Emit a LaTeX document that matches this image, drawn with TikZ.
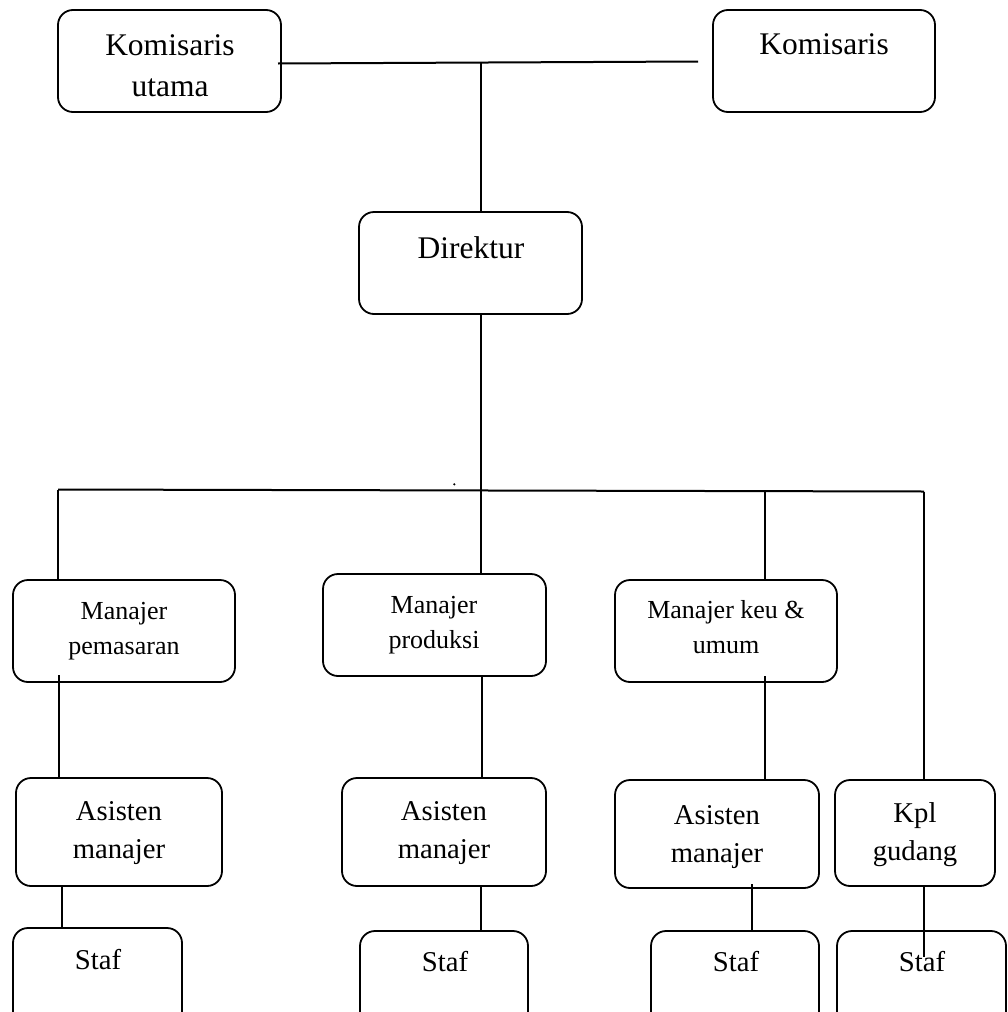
\documentclass[tikz,border=0pt]{standalone}
\usepackage{fontspec}
\setmainfont{Liberation Serif}
\begin{document}
\begin{tikzpicture}[x=1pt,y=-1pt,
  box/.style={draw, rounded corners=15pt, line width=1.8pt, inner sep=0pt, outer sep=0pt, anchor=north west},
  big/.style={anchor=base, inner sep=0pt, align=center, font=\fontsize{31.5}{41}\selectfont},
  mid/.style={anchor=base, inner sep=0pt, align=center, font=\fontsize{26}{34.5}\selectfont},
  std/.style={anchor=base, inner sep=0pt, align=center, font=\fontsize{28.7}{38}\selectfont},
  conn/.style={line width=1.5pt},
  mainline/.style={line width=2pt}]
\useasboundingbox (0,0) rectangle (1008,1012);
% boxes
\node[box, minimum width=223pt, minimum height=102pt] (ku)  at (58,10) {};
\node[box, minimum width=222pt, minimum height=102pt] (ko)  at (713,10) {};
\node[box, minimum width=223pt, minimum height=102pt] (dir) at (359,212) {};
\node[box, minimum width=222pt, minimum height=102pt] (mp)  at (13,580) {};
\node[box, minimum width=223pt, minimum height=102pt] (mpr) at (323,574) {};
\node[box, minimum width=222pt, minimum height=102pt] (mk)  at (615,580) {};
\node[box, minimum width=206pt, minimum height=108pt] (a1)  at (16,778) {};
\node[box, minimum width=204pt, minimum height=108pt] (a2)  at (342,778) {};
\node[box, minimum width=204pt, minimum height=108pt] (a3)  at (615,780) {};
\node[box, minimum width=160pt, minimum height=106pt] (kpl) at (835,780) {};
\node[box, minimum width=169pt, minimum height=110pt] (s1)  at (13,928) {};
\node[box, minimum width=168pt, minimum height=110pt] (s2)  at (360,931) {};
\node[box, minimum width=168pt, minimum height=110pt] (s3)  at (651,931) {};
\node[box, minimum width=169pt, minimum height=110pt] (s4)  at (837,931) {};
% texts (anchor = baseline of the last line)
\node[big] (kut) at (170,96) {Komisaris\\utama};
\node[big] (kot) at (824,54) {Komisaris};
\node[big] (dirt) at (471,258) {Direktur};
\node[mid] (mpt) at (124,654) {Manajer\\pemasaran};
\node[mid] (mprt) at (434,648) {Manajer\\produksi};
\node[mid] (mkt) at (726,653) {Manajer keu \&\\umum};
\node[std] (a1t) at (119,858) {Asisten\\manajer};
\node[std] (a2t) at (444,858) {Asisten\\manajer};
\node[std] (a3t) at (717,862) {Asisten\\manajer};
\node[std] (kplt) at (915,860) {Kpl\\gudang};
\node[std] (s1t) at (98,969) {Staf};
\node[std] (s2t) at (445,971) {Staf};
\node[std] (s3t) at (736,971) {Staf};
\node[std] (s4t) at (922,971) {Staf};
% connectors
\coordinate (tl) at (278,63.5);
\coordinate (tr) at (698,61.5);
\coordinate (tm) at (481,62.5);
\draw[mainline] (tl) -- (tr);
\draw[conn] (tm) -- (tm |- dir.north);
\coordinate (hl) at (58,489.5);
\coordinate (hm) at (481,490.5);
\coordinate (hk) at (765,491);
\coordinate (hr) at (924,491.5);
\draw[conn] (hm |- dir.south) -- (hm);
\draw[mainline] (hl) -- (hr);
\draw[conn] (hl) -- (hl |- mp.north);
\draw[conn] (hm) -- (hm |- mpr.north);
\draw[conn] (hk) -- (hk |- mk.north);
\draw[conn] (hr) -- (hr |- kpl.north);
\coordinate (v1) at (59,675);
\coordinate (v2) at (482,676);
\coordinate (v3) at (765,676);
\draw[conn] (v1) -- (v1 |- a1.north);
\draw[conn] (v2) -- (v2 |- a2.north);
\draw[conn] (v3) -- (v3 |- a3.north);
\coordinate (w1) at (62,886);
\coordinate (w2) at (481,886);
\coordinate (w3) at (752,884);
\coordinate (w4) at (924,886);
\coordinate (w4e) at (924,957);
\draw[conn] (w1) -- (w1 |- s1.north);
\draw[conn] (w2) -- (w2 |- s2.north);
\draw[conn] (w3) -- (w3 |- s3.north);
\draw[conn] (w4) -- (w4e);
\fill (454.3,484.3) circle (1.2pt);
\end{tikzpicture}
\end{document}
